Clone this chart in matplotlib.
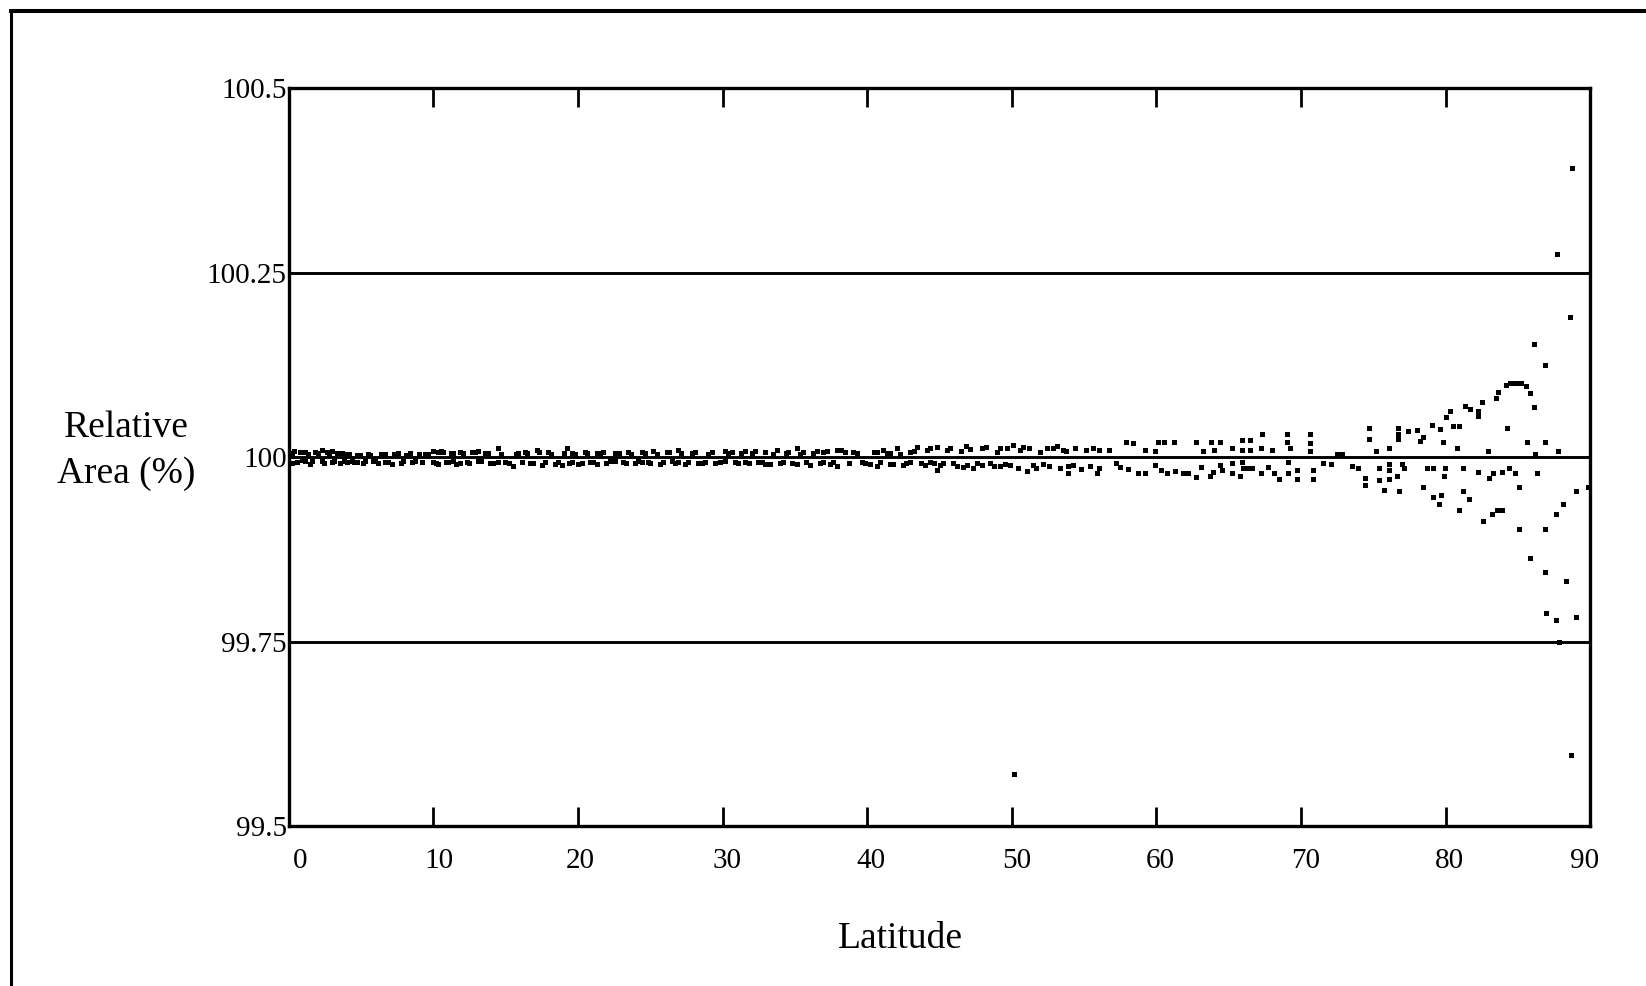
import matplotlib
matplotlib.use("Agg")
import matplotlib.pyplot as plt
import matplotlib.transforms as mtransforms
from matplotlib.lines import Line2D

plt.rcParams["font.family"] = ["Liberation Serif", "DejaVu Serif"]

# latitude (deg) and relative area (%) of each cell sample
lat_low = [0.20, 0.20, 0.55, 0.78, 1.12, 1.12, 1.47, 1.81, 2.28, 2.28, 2.62, 2.97, 2.97,
           3.31, 3.54, 4.00, 4.00, 4.35, 4.70, 4.70, 5.16, 5.50, 5.85, 6.19, 6.65, 6.65,
           7.11, 7.58, 7.92, 8.38, 8.73, 9.42, 9.99, 9.99, 10.34, 10.34, 10.69, 11.03,
           11.38, 11.38, 11.84, 11.84, 12.30, 12.65, 13.11, 13.11, 13.57, 13.91, 14.49,
           14.49, 14.95, 15.53, 15.87, 16.33, 16.68, 17.14, 17.49, 17.95, 18.41, 18.87,
           19.21, 19.56, 19.56, 20.02, 20.48, 20.83, 21.29, 21.29, 21.75, 22.21,
           0.40, 0.90, 1.30, 1.60, 2.00, 2.45, 2.80, 3.15, 3.70, 3.85, 4.20, 4.50, 4.90,
           5.30, 5.65, 6.00, 6.40, 6.85, 7.30, 7.75, 8.10, 8.55, 9.00, 9.20, 9.65, 10.15,
           10.50, 10.85, 11.20, 11.60, 12.05, 12.45, 12.85, 13.30, 13.75, 14.15, 14.70,
           15.20, 15.70, 16.10, 16.50, 16.90, 17.30, 17.70, 18.15, 18.60, 19.00, 19.40,
           19.80, 20.25, 20.65, 21.05, 21.50, 21.95]
area_low = [100.0054, 99.9919, 99.9933, 100.0076, 100.0076, 99.9942, 99.9906, 100.0067,
            100.0099, 99.9942, 100.0076, 100.0085, 99.9933, 100.0054, 99.9919, 100.0040,
            99.9933, 99.9942, 100.0031, 99.9933, 99.9919, 100.0040, 99.9942, 99.9919,
            100.0040, 99.9933, 99.9906, 100.0054, 99.9951, 100.0054, 99.9942, 100.0040,
            100.0085, 99.9933, 100.0067, 99.9906, 100.0076, 99.9933, 100.0054, 99.9942,
            100.0076, 99.9919, 99.9933, 100.0067, 100.0085, 99.9942, 100.0054, 99.9919,
            100.0120, 99.9933, 99.9933, 99.9875, 100.0054, 100.0076, 99.9919, 100.0099,
            99.9897, 100.0076, 99.9906, 99.9897, 100.0130, 100.0054, 99.9933, 99.9906,
            100.0076, 99.9933, 100.0054, 99.9906, 100.0076, 99.9942,
            100.0085, 99.9962, 100.0049, 99.9953, 100.0058, 99.9928, 100.0040, 99.9950,
            100.0063, 99.9945, 100.0040, 99.9930, 100.0036, 99.9948, 100.0032, 99.9955,
            100.0040, 99.9940, 100.0045, 99.9925, 100.0036, 99.9940, 100.0040, 99.9935,
            100.0049, 99.9920, 100.0085, 99.9938, 100.0063, 99.9910, 100.0058, 99.9928,
            100.0072, 99.9945, 100.0063, 99.9925, 100.0049, 99.9915, 100.0040, 99.9935,
            100.0058, 99.9925, 100.0072, 99.9940, 100.0049, 99.9930, 100.0063, 99.9915,
            100.0045, 99.9925, 100.0058, 99.9935, 100.0063, 99.9920]

lat_mid = [22.57, 22.57, 23.14, 23.49, 23.95, 24.41, 24.41, 24.87, 25.22, 25.68, 26.14,
           26.48, 26.94, 26.94, 27.41, 27.87, 28.33, 28.79, 29.25, 29.83, 30.17, 30.17,
           30.63, 31.09, 31.55, 31.55, 32.01, 32.48, 32.94, 32.94, 33.28, 33.74, 34.20,
           34.55, 35.13, 35.13, 35.59, 36.05, 36.51, 36.97, 36.97, 37.43, 37.89, 37.89,
           38.47, 39.04, 39.62, 40.20, 40.66, 40.66, 41.12, 41.58, 41.58, 42.04, 42.50,
           42.96, 42.96, 43.42, 44.00, 44.34, 44.34, 44.81,
           22.85, 23.30, 23.70, 24.15, 24.65, 25.00, 25.45, 25.90, 26.30, 26.70, 27.15,
           27.60, 28.10, 28.55, 29.00, 29.50, 30.40, 30.85, 31.30, 31.80, 32.25, 32.70,
           33.50, 33.95, 34.35, 34.80, 35.35, 35.80, 36.25, 36.75, 37.20, 37.65, 38.20,
           38.75, 39.30, 39.85, 40.45, 40.90, 41.35, 41.80, 42.25, 42.70, 43.20, 43.70,
           44.15, 44.60]
area_mid = [100.0054, 99.9942, 99.9933, 100.0076, 99.9919, 100.0076, 99.9933, 99.9933,
            100.0085, 99.9906, 100.0067, 99.9942, 100.0099, 99.9933, 99.9906, 100.0054,
            99.9919, 99.9933, 100.0076, 99.9933, 100.0085, 99.9942, 100.0067, 99.9919,
            100.0085, 99.9933, 100.0054, 99.9933, 100.0067, 99.9906, 99.9906, 100.0099,
            99.9933, 100.0076, 100.0121, 99.9906, 100.0076, 99.9888, 100.0085, 100.0067,
            99.9933, 99.9906, 100.0099, 99.9875, 100.0067, 100.0076, 99.9933, 99.9906,
            100.0067, 99.9875, 100.0099, 100.0054, 99.9906, 100.0121, 99.9897, 100.0076,
            99.9933, 100.0143, 99.9888, 100.0130, 99.9933, 99.9830,
            100.0058, 99.9920, 100.0049, 99.9945, 100.0063, 99.9925, 100.0049, 99.9940,
            100.0072, 99.9915, 100.0058, 99.9938, 100.0076, 99.9925, 100.0045, 99.9915,
            100.0063, 99.9935, 100.0058, 99.9920, 100.0085, 99.9940, 100.0049, 99.9925,
            100.0058, 99.9915, 100.0045, 99.9930, 100.0063, 99.9920, 100.0085, 99.9935,
            100.0099, 99.9915, 100.0058, 99.9925, 100.0076, 99.9935, 100.0063, 99.9910,
            100.0049, 99.9925, 100.0085, 99.9915, 100.0099, 99.9925]

lat_high = [44.81, 45.27, 45.50, 46.19, 46.83, 46.88, 47.34, 47.92, 47.92, 48.49, 49.19,
            49.19, 49.88, 50.11, 50.80, 51.03, 51.49, 51.95, 52.41, 52.87, 53.56, 53.91,
            53.91, 50.15,
            45.05, 45.75, 45.95, 46.45, 46.60, 47.10, 47.60, 48.20, 48.75, 49.00, 49.50,
            49.65, 50.40, 50.55, 51.20, 51.70, 52.15, 52.60, 53.10, 53.30, 53.75, 54.20,
            54.40, 54.80, 55.10, 55.40, 55.60]
area_high = [100.0143, 99.9919, 100.0099, 99.9875, 100.0157, 99.9897, 99.9852, 100.0121,
             99.9897, 99.9919, 100.0121, 99.9875, 99.9897, 100.0166, 100.0143, 99.9807,
             99.9897, 100.0076, 100.0121, 100.0121, 100.0099, 99.9875, 99.9785, 99.571,
             99.9900, 100.0121, 99.9915, 100.0085, 99.9870, 100.0110, 99.9925, 100.0140,
             99.9880, 100.0076, 99.9905, 100.0130, 99.9860, 100.0099, 100.0121, 99.9850,
             99.9905, 99.9880, 100.0150, 99.9860, 100.0085, 99.9900, 100.0130, 99.9840,
             100.0099, 99.9880, 100.0121]

lat_polar = [56.0, 56.7, 57.9, 58.4, 59.2, 59.9, 60.1, 60.5, 61.2, 62.7, 63.2, 63.8, 64.0,
             64.4, 65.2, 65.9, 65.9, 66.5, 66.5, 67.2, 67.3, 68.0, 69.0, 69.0, 69.2, 70.6,
             70.6, 70.6, 72.5,
             55.9, 56.0, 57.2, 57.5, 58.0, 58.7, 59.2, 59.9, 60.3, 60.7, 61.3, 61.8, 62.2,
             62.7, 63.1, 63.7, 63.9, 64.4, 64.5, 65.2, 65.2, 65.8, 65.9, 66.0, 66.3, 66.6,
             67.2, 67.7, 68.1, 68.5, 69.1, 69.1, 69.7, 69.7, 70.8, 70.8, 71.5]
area_polar = [100.010, 100.010, 100.021, 100.019, 100.010, 100.008, 100.020, 100.020,
              100.020, 100.020, 100.008, 100.020, 100.010, 100.020, 100.013, 100.023,
              100.010, 100.023, 100.010, 100.013, 100.031, 100.010, 100.031, 100.021,
              100.012, 100.031, 100.019, 100.008, 100.005,
              99.978, 99.985, 99.992, 99.987, 99.984, 99.978, 99.978, 99.990, 99.983,
              99.978, 99.981, 99.978, 99.978, 99.973, 99.987, 99.974, 99.980, 99.990,
              99.983, 99.992, 99.978, 99.974, 99.994, 99.985, 99.985, 99.985, 99.978,
              99.987, 99.978, 99.970, 99.994, 99.978, 99.983, 99.970, 99.983, 99.970,
              99.992]

lat_cap = [72.8, 74.67, 74.67, 75.2, 76.05, 76.7, 76.7, 76.7, 77.36, 78.0, 78.2, 78.4,
           79.03, 79.6, 79.8, 80.0, 80.3, 80.5, 80.76, 80.9, 81.33, 81.7, 82.2, 82.2, 82.5,
           82.9, 83.5, 83.6, 84.2, 84.25, 84.45, 84.7, 84.95, 85.2, 85.55, 85.6, 85.8, 86.1,
           86.1, 86.2, 86.85, 86.85, 87.7, 87.77, 88.6, 88.7,
           72.1, 73.5, 73.9, 74.4, 74.4, 75.4, 75.4, 75.7, 76.1, 76.1, 76.1, 76.6, 76.8,
           77.0, 77.1, 78.46, 78.7, 79.1, 79.1, 79.5, 79.7, 79.95, 79.9, 80.9, 81.2, 81.2,
           81.6, 82.25, 82.6, 83.2, 83.55, 83.9, 83.0, 83.3, 83.9, 84.4, 84.8, 85.1, 85.1,
           85.8, 86.3, 86.85, 86.85, 86.96, 87.6, 87.6, 88.1, 88.3, 87.8, 88.64, 89.0,
           89.0, 89.85]
area_cap = [100.005, 100.039, 100.024, 100.008, 100.013, 100.039, 100.031, 100.024,
            100.036, 100.037, 100.022, 100.027, 100.043, 100.038, 100.020, 100.055,
            100.063, 100.042, 100.013, 100.042, 100.069, 100.065, 100.062, 100.056,
            100.075, 100.009, 100.080, 100.088, 100.098, 100.039, 100.101, 100.101,
            100.101, 100.101, 100.096, 100.020, 100.087, 100.068, 100.154, 100.005,
            100.125, 100.020, 100.276, 100.009, 100.190, 100.392,
            99.991, 99.988, 99.985, 99.972, 99.962, 99.985, 99.969, 99.956, 99.991,
            99.983, 99.970, 99.975, 99.954, 99.991, 99.985, 99.959, 99.985, 99.985,
            99.946, 99.937, 99.949, 99.985, 99.975, 99.929, 99.985, 99.954, 99.944,
            99.980, 99.914, 99.923, 99.929, 99.929, 99.972, 99.978, 99.980, 99.985,
            99.978, 99.959, 99.903, 99.864, 99.978, 99.903, 99.844, 99.789, 99.923,
            99.779, 99.937, 99.832, 99.749, 99.596, 99.954, 99.783, 99.959]

x_ticks = [0, 10, 20, 30, 40, 50, 60, 70, 80, 90]
y_ticks = [99.5, 99.75, 100, 100.25, 100.5]
y_labels = ["99.5", "99.75", "100", "100.25", "100.5"]

fig = plt.figure(figsize=(16.46, 9.86), dpi=100)
ax = fig.add_axes([0.1754, 0.1621, 0.7908, 0.7484])

for y in y_ticks[1:-1]:
    ax.axhline(y, color="black", lw=2.1, zorder=1)

for lat, area in [(lat_low, area_low), (lat_mid, area_mid), (lat_high, area_high),
                  (lat_polar, area_polar), (lat_cap, area_cap)]:
    ax.plot(lat, area, "s", ms=3.6, color="black", mew=0, zorder=2, clip_on=False)

ax.set_xlim(0, 90)
ax.set_ylim(99.5, 100.5)
for s in ax.spines.values():
    s.set_linewidth(2.4)

ax.set_xticks(x_ticks)
ax.set_xticklabels([str(v) for v in x_ticks])
ax.tick_params(axis="x", direction="in", top=True, length=14, width=2.0,
               pad=15.5, labelsize=21)
ax.set_yticks(y_ticks)
ax.set_yticklabels(y_labels)
ax.tick_params(axis="y", length=0, pad=1.5, labelsize=21)

# nudge the first/last latitude labels inside the frame
shifts = [8.5, 4, 2, 3, 3, 3.5, 3, 3.5, 3, -4.5]
for lab, dx in zip(ax.get_xticklabels(), shifts):
    off = mtransforms.ScaledTranslation(dx / 72, 0, fig.dpi_scale_trans)
    lab.set_transform(lab.get_transform() + off)

fig.text(126 / 1646, 1 - 451 / 986, "Relative\nArea (%)", ha="center", va="center",
         fontsize=27, linespacing=1.42, multialignment="center")
fig.text(900 / 1646, 1 - 939 / 986, "Latitude", ha="center", va="center", fontsize=27)

# outer page frame
fig.add_artist(Line2D([11 / 1646, 11 / 1646], [0, 1 - 10.5 / 986], color="black",
                      lw=2.2, transform=fig.transFigure))
fig.add_artist(Line2D([11 / 1646, 1], [1 - 10.5 / 986, 1 - 10.5 / 986], color="black",
                      lw=2.9, transform=fig.transFigure))

fig.savefig("out.png", dpi=100)
